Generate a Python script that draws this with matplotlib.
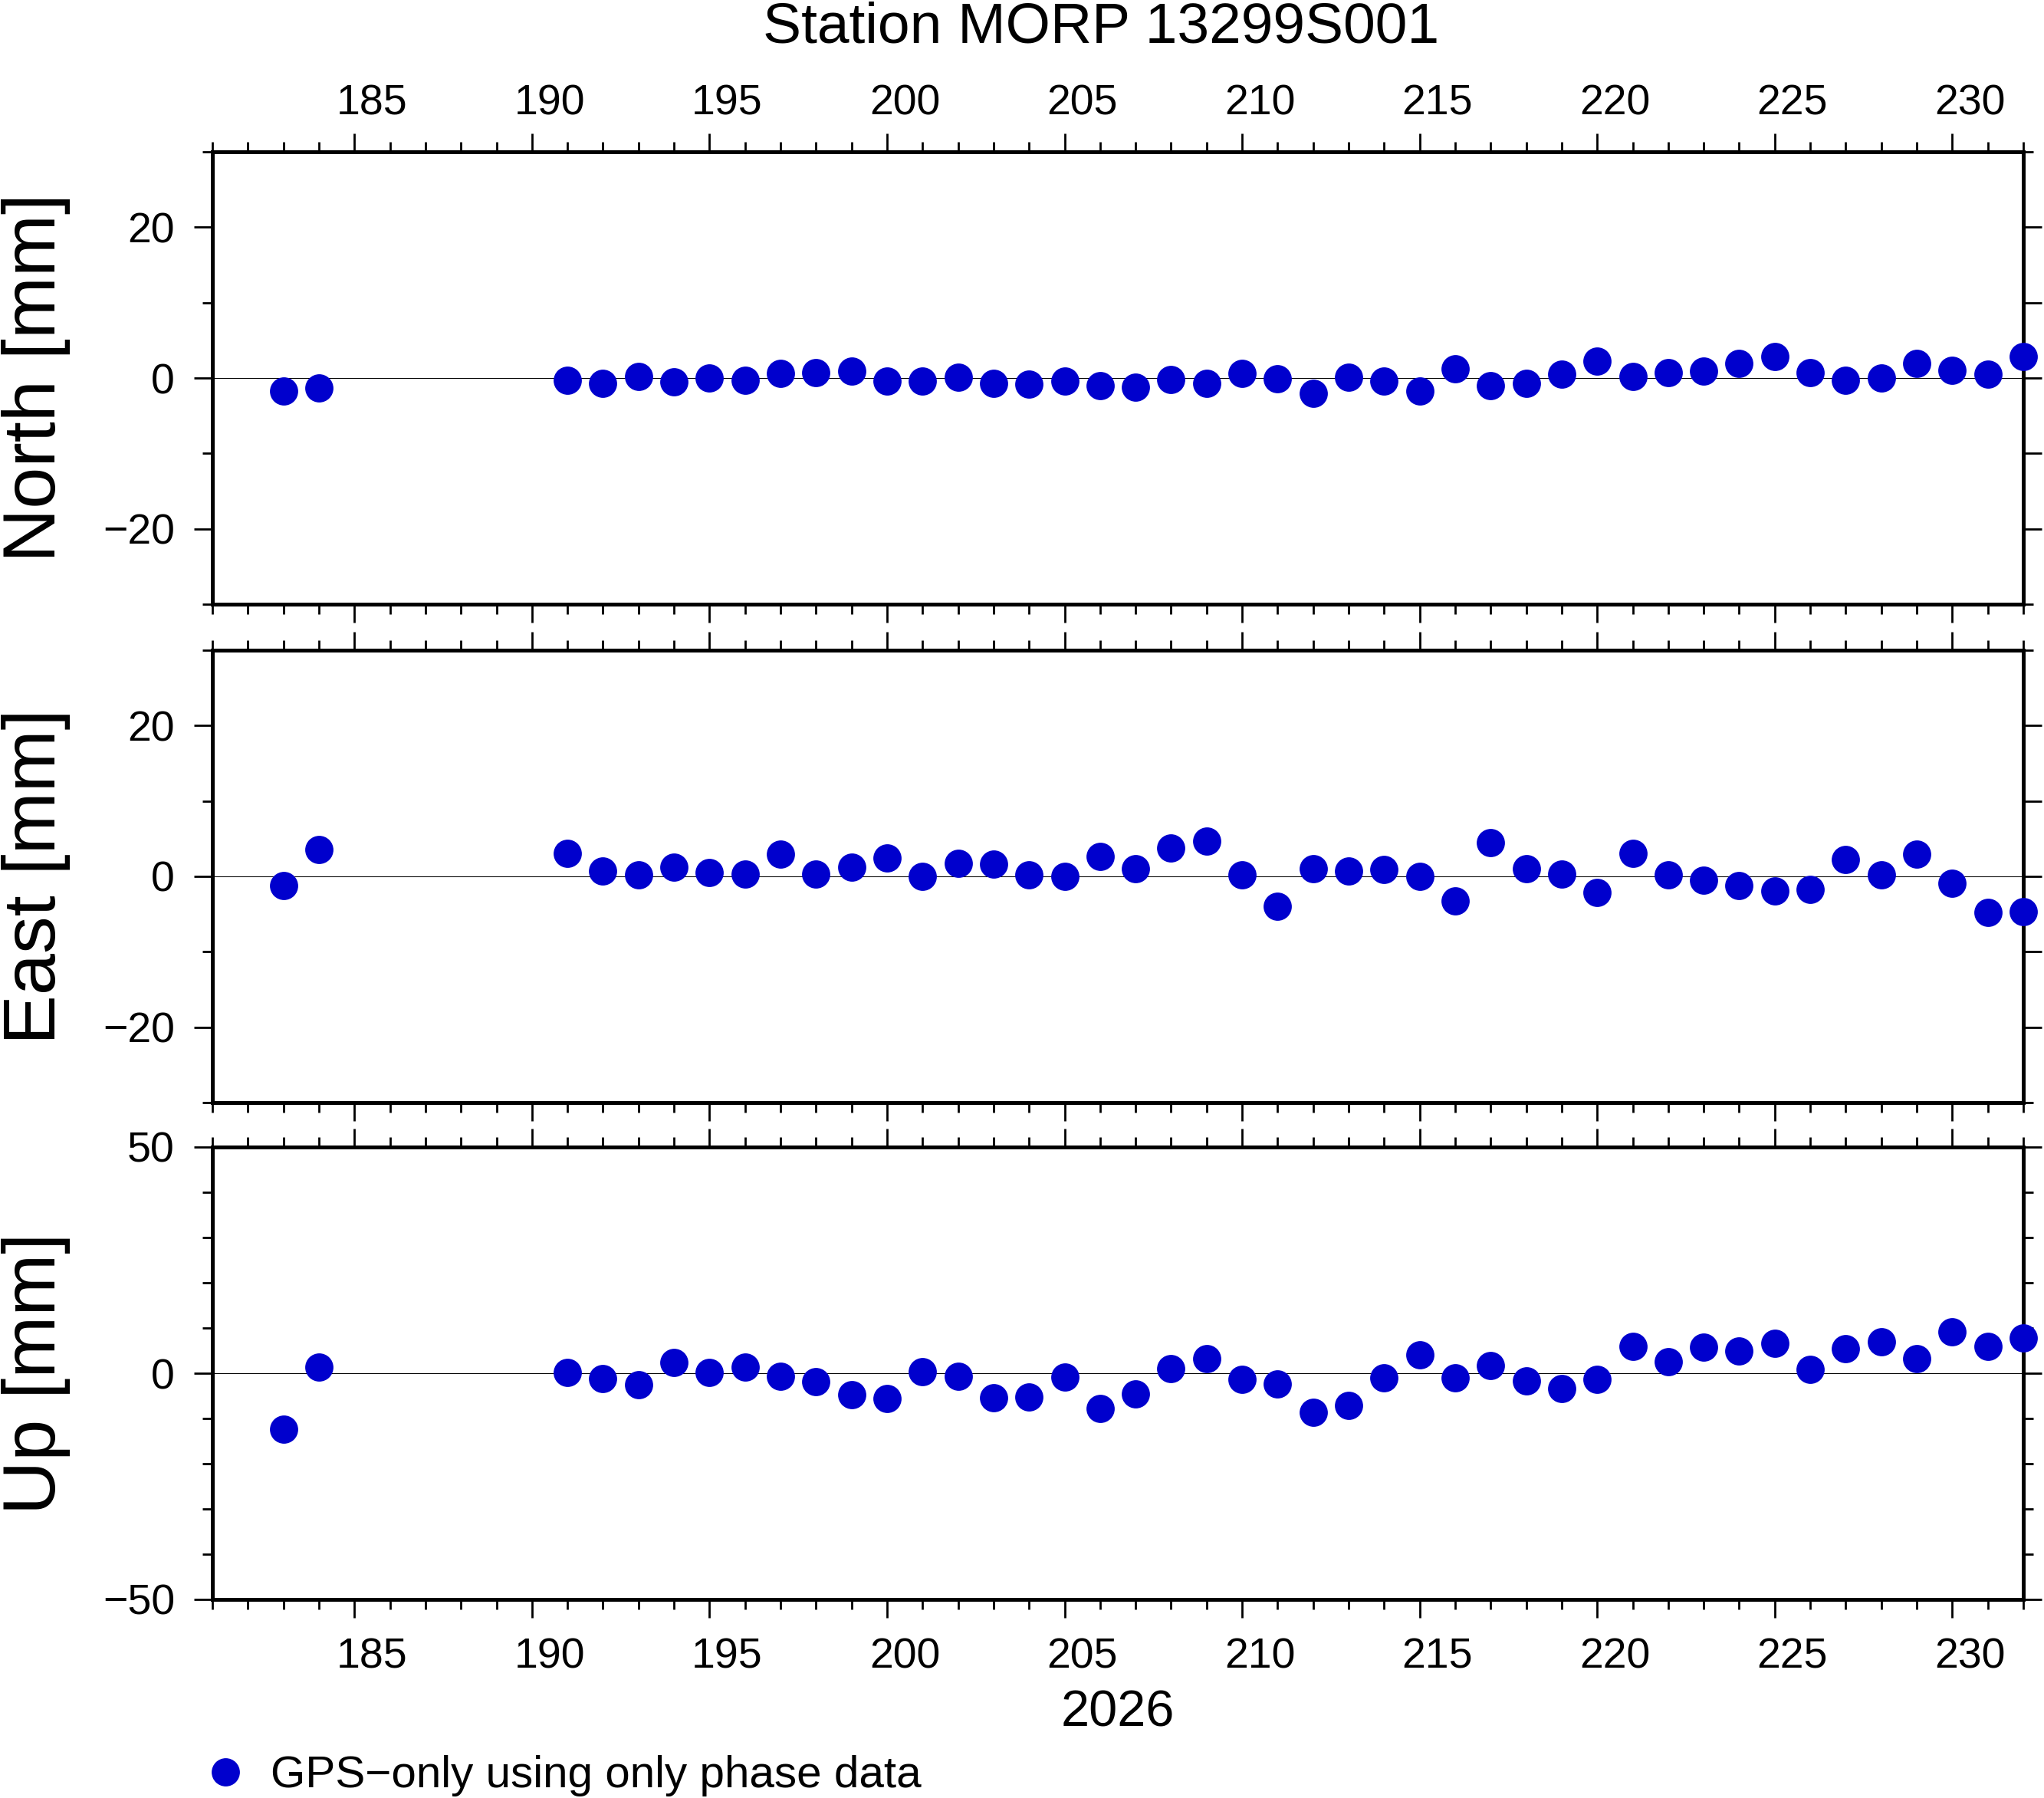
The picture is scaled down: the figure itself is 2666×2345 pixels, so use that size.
import numpy as np
import matplotlib
matplotlib.use("Agg")
import matplotlib.pyplot as plt
from matplotlib.transforms import ScaledTranslation

plt.rcParams['font.family'] = ['Liberation Sans', 'DejaVu Sans']

# day of year 2026
days = [183, 184, 191, 192, 193, 194, 195, 196, 197, 198, 199, 200, 201, 202,
        203, 204, 205, 206, 207, 208, 209, 210, 211, 212, 213, 214, 215, 216,
        217, 218, 219, 220, 221, 222, 223, 224, 225, 226, 227, 228, 229, 230,
        231, 232]

# residuals in mm
north = [-1.7, -1.3, -0.3, -0.7, 0.2, -0.5, 0.0, -0.3, 0.6, 0.7, 0.9, -0.4,
         -0.4, 0.1, -0.7, -0.8, -0.4, -1.0, -1.2, -0.2, -0.7, 0.6, -0.1, -2.0,
         0.1, -0.4, -1.7, 1.2, -1.0, -0.7, 0.5, 2.2, 0.2, 0.7, 0.9, 1.9, 2.8,
         0.7, -0.3, 0.0, 1.9, 1.0, 0.5, 2.8]
east = [-1.2, 3.6, 3.1, 0.7, 0.2, 1.2, 0.5, 0.3, 2.9, 0.3, 1.2, 2.4, 0.0, 1.7,
        1.6, 0.2, 0.0, 2.6, 1.0, 3.8, 4.7, 0.2, -4.0, 1.0, 0.7, 0.9, 0.0, -3.3,
        4.5, 1.0, 0.3, -2.1, 3.1, 0.2, -0.5, -1.2, -1.9, -1.7, 2.2, 0.2, 2.9,
        -0.9, -4.8, -4.7]
up = [-12.4, 1.4, 0.2, -1.2, -2.5, 2.3, 0.2, 1.4, -0.7, -1.9, -4.7, -5.6, 0.3,
      -0.6, -5.5, -5.2, -0.9, -7.8, -4.6, 1.1, 3.2, -1.4, -2.3, -8.6, -7.2,
      -1.1, 4.0, -1.1, 1.7, -1.7, -3.4, -1.4, 6.0, 2.6, 5.7, 4.9, 6.6, 0.9,
      5.5, 6.9, 3.2, 9.2, 6.0, 7.8]

labels = ['North [mm]', 'East [mm]', 'Up [mm]']
ylims = [(-30, 30), (-30, 30), (-50, 50)]
title = 'Station MORP 13299S001'
year = '2026'
legend_label = 'GPS\u2212only using only phase data'

W, H = 2666, 2345
dpi = 100
fig = plt.figure(figsize=(W / dpi, H / dpi), dpi=dpi)

left = 277 / W
width = (2639 - 277) / W
tops = [198, 848, 1496]
ph = 590
dot_color = '#0000CD'

fw = 3.6   # frame
tw = 2.0   # ticks
maj, mnr = 17.3, 9.4

axes = []
for i, (vals, lab, yl) in enumerate(zip([north, east, up], labels, ylims)):
    ax = fig.add_axes([left, 1 - (tops[i] + ph) / H, width, ph / H])
    ax.axhline(0, color='black', lw=0.75, zorder=1)
    h, = ax.plot(days, vals, 'o', ms=26.5, color=dot_color, mec='none',
                 clip_on=False, zorder=3)
    ax.set_xlim(181, 232)
    ax.set_ylim(*yl)
    for sp in ax.spines.values():
        sp.set_linewidth(fw)

    ax.set_xticks(np.arange(185, 231, 5))
    ax.set_xticks(np.arange(181, 233, 1), minor=True)
    if yl[1] == 30:
        ax.set_yticks([-20, 0, 20])
        ax.set_yticks([-30, -10, 10, 30], minor=True)
    else:
        ax.set_yticks([-50, 0, 50])
        ax.set_yticks(np.arange(-40, 41, 10), minor=True)

    ax.tick_params(which='both', direction='out', width=tw, labelsize=40,
                   pad=18, top=True, bottom=True, left=True,
                   right=(yl[1] != 30))
    ax.tick_params(which='major', length=maj)
    ax.tick_params(which='minor', length=mnr)
    ax.tick_params(axis='x', labeltop=(i == 0), labelbottom=(i == 2))

    if yl[1] == 30:
        # right-hand side of the horizontal panels has its own tick set
        sec = ax.secondary_yaxis('right')
        sec.spines['right'].set_linewidth(fw)
        sec.set_yticks([-20, -10, 0, 10, 20])
        sec.set_yticks([-30, 30], minor=True)
        sec.tick_params(which='both', direction='out', width=tw,
                        labelright=False)
        sec.tick_params(which='major', length=maj)
        sec.tick_params(which='minor', length=mnr)

    # interval-style annotation: day labels centred on the day
    half = 23.15 / dpi
    for tk in ax.xaxis.get_major_ticks():
        tk.label1.set_transform(tk.label1.get_transform() +
                                ScaledTranslation(half, 0,
                                                  fig.dpi_scale_trans))
        tk.label2.set_transform(tk.label2.get_transform() +
                                ScaledTranslation(half, -13 / dpi,
                                                  fig.dpi_scale_trans))

    fig.text(47 / W, 1 - (tops[i] + ph / 2) / H, lab, rotation=90,
             ha='center', va='center', fontsize=70)
    axes.append((ax, h))

fig.text(1436 / W, 1 - 56 / H, title, ha='center', va='baseline', fontsize=54)
fig.text((277 + 2639) / 2 / W, 1 - 2251 / H, year, ha='center',
         va='baseline', fontsize=48)

fig.legend(handles=[axes[0][1]], labels=[legend_label], loc='center left',
           bbox_to_anchor=(268 / W, 1 - 2316 / H), frameon=False,
           fontsize=42, handlelength=0.88, handletextpad=0.57, borderpad=0,
           borderaxespad=0, numpoints=1)

fig.savefig('out.png', dpi=dpi)
